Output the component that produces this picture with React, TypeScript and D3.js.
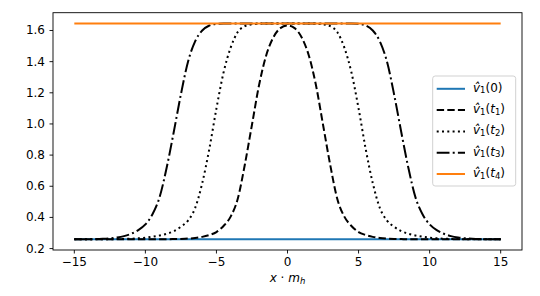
import * as d3 from "d3";

// sampling grid (x · m_h) and curves
const xs = d3.range(-15, 15.01, 0.5);
const flatX = [-15, 15];
const v0 = [0.26, 0.26];
const vt4 = [1.645, 1.645];

const vt1 = [
  0.26, 0.26, 0.26, 0.26, 0.26, 0.26, 0.26, 0.26, 0.26, 0.26, 0.26, 0.26, 0.26, 0.26,
  0.261, 0.262, 0.264, 0.268, 0.275, 0.287, 0.306, 0.345, 0.405, 0.52, 0.74, 0.995,
  1.25, 1.44, 1.555, 1.615, 1.632, 1.615, 1.555, 1.44, 1.25, 0.995, 0.74, 0.52, 0.405,
  0.345, 0.306, 0.287, 0.275, 0.268, 0.264, 0.262, 0.261,
  0.26, 0.26, 0.26, 0.26, 0.26, 0.26, 0.26, 0.26, 0.26, 0.26, 0.26, 0.26, 0.26, 0.26,
];

const vt2 = [
  0.26, 0.26, 0.26, 0.26, 0.26, 0.26, 0.261, 0.262, 0.263, 0.266, 0.27, 0.276, 0.284,
  0.295, 0.312, 0.34, 0.38, 0.46, 0.62, 0.84, 1.1, 1.33, 1.49, 1.59, 1.628, 1.64, 1.644,
  1.645, 1.645, 1.645, 1.645, 1.645, 1.645, 1.645, 1.644, 1.64, 1.628, 1.59, 1.49, 1.33,
  1.1, 0.84, 0.62, 0.46, 0.38, 0.34, 0.312, 0.295, 0.284, 0.276, 0.27, 0.266, 0.263,
  0.262, 0.261, 0.26, 0.26, 0.26, 0.26, 0.26, 0.26,
];

const vt3 = [
  0.26, 0.26, 0.26, 0.261, 0.263, 0.266, 0.271, 0.28, 0.295, 0.318, 0.355, 0.42, 0.53,
  0.72, 0.95, 1.19, 1.4, 1.53, 1.6, 1.632, 1.643, 1.645, 1.645, 1.645, 1.645, 1.645,
  1.645, 1.645, 1.645, 1.645, 1.645, 1.645, 1.645, 1.645, 1.645, 1.645, 1.645, 1.645,
  1.645, 1.645, 1.643, 1.632, 1.6, 1.53, 1.4, 1.19, 0.95, 0.72, 0.53, 0.42, 0.355, 0.318,
  0.295, 0.28, 0.271, 0.266, 0.263, 0.261, 0.26, 0.26, 0.26,
];

const xTicks = [-15, -10, -5, 0, 5, 10, 15];
const yTicks = [0.2, 0.4, 0.6, 0.8, 1.0, 1.2, 1.4, 1.6];

const W = 540;
const H = 296;
const left = 53;
const right = 522;
const top = 12.7;
const bottom = 250;
const font = "DejaVu Sans";
const fs = 12;

const Label = ({ x, y, arg }: { x: number; y: number; arg: string }) => (
  <text x={x} y={y} fontFamily={font} fontSize={fs} dominantBaseline="central">
    <tspan fontStyle="italic">v&#770;</tspan>
    <tspan fontSize={8.5} dy={2.5}>1</tspan>
    <tspan dy={-2.5}>(</tspan>
    {arg === "0" ? (
      <tspan>0)</tspan>
    ) : (
      <>
        <tspan fontStyle="italic">t</tspan>
        <tspan fontSize={8.5} dy={2.5}>{arg}</tspan>
        <tspan dy={-2.5}>)</tspan>
      </>
    )}
  </text>
);

export default function App() {
  const x = d3.scaleLinear().domain([-16.5, 16.5]).range([left, right]);
  const y = d3.scaleLinear().domain([0.1908, 1.7142]).range([bottom, top]);

  const line = d3
    .line<number>()
    .x((_, i) => x(xs[i]))
    .y((d) => y(d))
    .curve(d3.curveMonotoneX);
  const flat = d3
    .line<number>()
    .x((_, i) => x(flatX[i]))
    .y((d) => y(d));

  const series = [
    { key: "0", d: flat(v0), color: "#1f77b4", dash: "" },
    { key: "1", d: line(vt1), color: "#000", dash: "7.4,3.2" },
    { key: "2", d: line(vt2), color: "#000", dash: "2,3.3" },
    { key: "3", d: line(vt3), color: "#000", dash: "12.8,3.2,2,3.2" },
    { key: "4", d: flat(vt4), color: "#ff7f0e", dash: "" },
  ];

  const lgX = 432.7;
  const lgY = 76;
  const rowY = (i: number) => 88.8 + i * 21.3;

  return (
    <svg width={W} height={H} style={{ position: "absolute", left: 0, top: 0 }}>
      <rect width={W} height={H} fill="#fff" />
      {series.map((s) => (
        <path
          key={s.key}
          d={s.d || ""}
          fill="none"
          stroke={s.color}
          strokeWidth={2}
          strokeDasharray={s.dash || undefined}
        />
      ))}
      {/* frame */}
      <rect
        x={left}
        y={top}
        width={right - left}
        height={bottom - top}
        fill="none"
        stroke="#000"
        strokeWidth={0.9}
      />
      {xTicks.map((t) => (
        <g key={t}>
          <line x1={x(t)} x2={x(t)} y1={bottom} y2={bottom + 3.5} stroke="#000" strokeWidth={0.9} />
          <text x={x(t)} y={bottom + 16.3} textAnchor="middle" fontFamily={font} fontSize={fs}>
            {t < 0 ? "\u2212" + Math.abs(t) : String(t)}
          </text>
        </g>
      ))}
      {yTicks.map((t) => (
        <g key={t}>
          <line x1={left - 3.5} x2={left} y1={y(t)} y2={y(t)} stroke="#000" strokeWidth={0.9} />
          <text
            x={left - 8}
            y={y(t)}
            textAnchor="end"
            dominantBaseline="central"
            fontFamily={font}
            fontSize={fs}
          >
            {t.toFixed(1)}
          </text>
        </g>
      ))}
      <text x={x(0)} y={281.5} textAnchor="middle" fontFamily={font} fontSize={fs}>
        <tspan fontStyle="italic">x</tspan>
        <tspan> · </tspan>
        <tspan fontStyle="italic">m</tspan>
        <tspan fontStyle="italic" fontSize={8.5} dy={2.5}>h</tspan>
      </text>
      {/* legend */}
      <rect
        x={lgX}
        y={lgY}
        width={83}
        height={110}
        rx={2.5}
        fill="#fff"
        fillOpacity={0.8}
        stroke="#cccccc"
        strokeWidth={0.9}
      />
      {series.map((s, i) => (
        <g key={"lg" + s.key}>
          <line
            x1={436.7}
            x2={465}
            y1={rowY(i)}
            y2={rowY(i)}
            stroke={s.color}
            strokeWidth={2}
            strokeDasharray={s.dash || undefined}
          />
          <Label x={473} y={rowY(i) - 1} arg={s.key} />
        </g>
      ))}
    </svg>
  );
}
